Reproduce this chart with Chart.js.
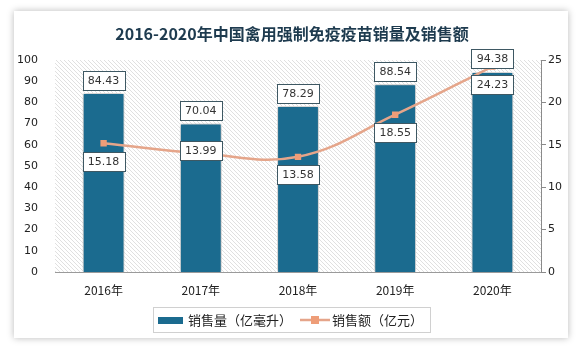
<!DOCTYPE html>
<html><head><meta charset="utf-8">
<script src="https://cdn.jsdelivr.net/npm/chart.js@4"></script>
<style>html,body{margin:0;padding:0;background:#fff}#wrap{width:583px;height:352px}</style>
</head><body><div id="wrap"><canvas id="c" width="583" height="352"></canvas></div>
<script>
const titleText = '2016-2020年中国禽用强制免疫疫苗销量及销售额';
const categories = ['2016年', '2017年', '2018年', '2019年', '2020年'];
const salesVolume = [84.43, 70.04, 78.29, 88.54, 94.38];
const salesValue = [15.18, 13.99, 13.58, 18.55, 24.23];
const volumeLabel = '销售量（亿毫升）';
const valueLabel = '销售额（亿元）';
const leftAxis = { min: 0, max: 100, step: 10 };
const rightAxis = { min: 0, max: 25, step: 5 };

const BAR = '#1b6b8f';
const LINE = '#e5a58a';
const MARK = '#ee9d78';
const CJK = '"Noto Sans CJK SC", sans-serif';
const NUM = '"DejaVu Sans", sans-serif';

function makeHatch() {
  const p = document.createElement('canvas');
  p.width = 4; p.height = 4;
  const g = p.getContext('2d');
  g.fillStyle = '#fff'; g.fillRect(0, 0, 4, 4);
  g.strokeStyle = '#e0e0e0'; g.lineWidth = 1;
  g.beginPath(); g.moveTo(0, 0); g.lineTo(4, 4); g.moveTo(-1, 3); g.lineTo(1, 5); g.moveTo(3, -1); g.lineTo(5, 1); g.stroke();
  return g.createPattern(p, 'repeat');
}

function labelBox(ctx, text, cx, cy) {
  ctx.font = '11px ' + NUM;
  const w = Math.round(ctx.measureText(text).width) + 11;
  const h = 19;
  const x = Math.round(cx - w / 2) + 0.5, y = Math.round(cy - h / 2) + 0.5;
  ctx.fillStyle = '#fff';
  ctx.fillRect(x, y, w, h);
  ctx.strokeStyle = '#3e5863'; ctx.lineWidth = 1;
  ctx.strokeRect(x, y, w, h);
  ctx.fillStyle = '#333';
  ctx.textAlign = 'center'; ctx.textBaseline = 'middle';
  ctx.fillText(text, cx, y + h / 2 + 0.5);
}

const decor = {
  id: 'decor',
  beforeDraw(chart) {
    const ctx = chart.ctx;
    ctx.save();
    ctx.fillStyle = '#fff'; ctx.fillRect(0, 0, chart.width, chart.height);
    ctx.shadowColor = 'rgba(0,0,0,0.28)'; ctx.shadowBlur = 7;
    ctx.fillStyle = '#fff'; ctx.fillRect(14, 11, 554, 327);
    ctx.restore();
    const a = chart.chartArea;
    ctx.save();
    ctx.fillStyle = makeHatch();
    ctx.fillRect(a.left, a.top, a.right - a.left, a.bottom - a.top);
    ctx.restore();
    ctx.save();
    ctx.font = 'bold 16px ' + CJK;
    ctx.fillStyle = '#1e3b4f';
    ctx.textAlign = 'center'; ctx.textBaseline = 'middle';
    ctx.fillText(titleText, 292, 34);
    ctx.restore();
  },
  beforeDatasetDraw(chart, args) {
    if (chart.data.datasets[args.index].type === 'bar') {
      const ctx = chart.ctx;
      ctx.save();
      ctx.shadowColor = 'rgba(0,0,0,0.4)'; ctx.shadowBlur = 4;
    }
  },
  afterDatasetDraw(chart, args) {
    if (chart.data.datasets[args.index].type === 'bar') chart.ctx.restore();
  },
  afterDraw(chart) {
    const ctx = chart.ctx;
    ctx.save();
    const barMeta = chart.getDatasetMeta(1);
    barMeta.data.forEach((el, i) => {
      labelBox(ctx, salesVolume[i].toFixed(2), el.x, el.y - 13);
    });
    const lineMeta = chart.getDatasetMeta(0);
    lineMeta.data.forEach((el, i) => {
      const dy = i === 1 ? -3 : 18;
      labelBox(ctx, salesValue[i].toFixed(2), el.x, el.y + dy);
    });
    // legend
    ctx.strokeStyle = '#d0d0d0'; ctx.lineWidth = 1;
    ctx.strokeRect(153.5, 307.5, 277, 25);
    ctx.fillStyle = BAR; ctx.fillRect(158, 317, 25, 7);
    ctx.font = '13px ' + CJK; ctx.fillStyle = '#222';
    ctx.textAlign = 'left'; ctx.textBaseline = 'middle';
    ctx.fillText(chart.data.datasets[1].label, 188, 320);
    ctx.strokeStyle = LINE; ctx.lineWidth = 2.5;
    ctx.beginPath(); ctx.moveTo(300, 320); ctx.lineTo(330, 320); ctx.stroke();
    ctx.fillStyle = MARK; ctx.fillRect(311, 316, 8, 8);
    ctx.fillStyle = '#222';
    ctx.fillText(chart.data.datasets[0].label, 332, 320);
    ctx.restore();
  }
};

new Chart(document.getElementById('c'), {
  data: {
    labels: categories,
    datasets: [
      {
        type: 'line', label: valueLabel, data: salesValue, yAxisID: 'y1', order: 1,
        borderColor: LINE, borderWidth: 2.5, tension: 0.4,
        pointStyle: 'rect', pointRadius: 4.5, pointBackgroundColor: MARK, pointBorderColor: MARK, pointBorderWidth: 0
      },
      {
        type: 'bar', label: volumeLabel, data: salesVolume, yAxisID: 'y', order: 2,
        backgroundColor: BAR, borderColor: '#ffffff', borderWidth: 1,
        categoryPercentage: 1, barPercentage: 0.43
      }
    ]
  },
  options: {
    responsive: false, animation: false, devicePixelRatio: 1,
    layout: { padding: { left: 14, right: 0, top: 60, bottom: 0 } },
    plugins: { legend: { display: false }, title: { display: false }, tooltip: { enabled: false } },
    scales: {
      x: {
        grid: { display: false },
        border: { display: true, color: '#9a9a9a', width: 1 },
        ticks: { color: '#222', font: { size: 12, family: CJK }, padding: 3 },
        afterFit(s) { s.height = 80; }
      },
      y: {
        position: 'left', min: leftAxis.min, max: leftAxis.max,
        grid: { display: false }, border: { display: false },
        ticks: { stepSize: leftAxis.step, color: '#222', font: { size: 11, family: NUM }, padding: 9 },
        afterFit(s) { s.width = 41; }
      },
      y1: {
        position: 'right', min: rightAxis.min, max: rightAxis.max,
        grid: { display: true, drawOnChartArea: false, tickLength: 5, color: '#8a8a8a' },
        border: { display: true, color: '#8a8a8a' },
        ticks: { stepSize: rightAxis.step, color: '#222', font: { size: 11, family: NUM }, padding: 2 },
        afterFit(s) { s.width = 42; }
      }
    }
  },
  plugins: [decor]
});
</script>
</body></html>
